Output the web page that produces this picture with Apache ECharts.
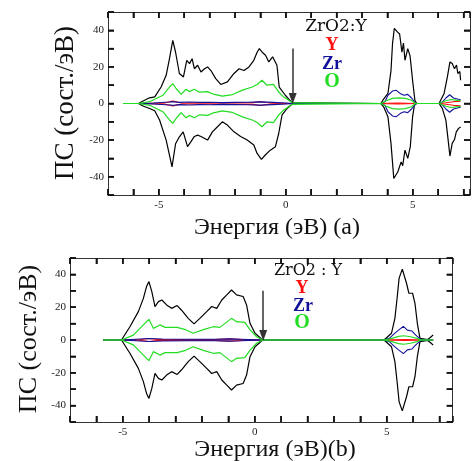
<!DOCTYPE html>
<html><head><meta charset="utf-8">
<script src="https://cdn.jsdelivr.net/npm/echarts@6/dist/echarts.min.js"></script>
<style>html,body{margin:0;padding:0;background:#fff}#c{width:473px;height:461px}</style>
</head><body><div id="c"></div>
<script>
// ---------- DATA (energy eV, DOS states/eV) ----------
// Panel (a)
const aTotUp = [[-6.4,0],[-5.8,0],[-5.6,1.5],[-5.36,3.1],[-5.16,3.6],[-4.91,9],[-4.71,15.4],[-4.58,24.5],[-4.45,34.5],[-4.34,28],[-4.19,16.4],[-4.03,14.5],[-3.9,23.6],[-3.79,21.8],[-3.69,24.5],[-3.6,19],[-3.47,20.9],[-3.34,17.2],[-3.2,19],[-3.08,20],[-2.95,18],[-2.76,13.6],[-2.56,10.4],[-2.3,11.8],[-2.04,16.4],[-1.84,19],[-1.65,18],[-1.45,20],[-1.26,23.6],[-1.13,28],[-1.04,30],[-0.93,28],[-0.8,26.4],[-0.67,22.7],[-0.52,25.5],[-0.35,20.9],[-0.26,9],[-0.02,4.5],[0.24,0.5],[0.27,0],[3.74,0],[3.82,1.8],[4.02,5.5],[4.14,18],[4.2,32.7],[4.27,41],[4.4,39],[4.48,38],[4.57,28],[4.63,33],[4.69,23.6],[4.8,30],[4.89,26],[4.99,12.7],[5.08,1.8],[5.15,0],[6.03,0],[6.23,5.5],[6.36,14.5],[6.46,22.7],[6.55,21.8],[6.64,19],[6.72,21],[6.77,16.4],[6.85,17.5],[6.88,12.7]];
const aTotDn = [[-6.4,0],[-5.8,0],[-5.6,-1.5],[-5.36,-2.7],[-5.16,-4],[-4.97,-9],[-4.71,-20],[-4.48,-34.6],[-4.34,-22],[-4.19,-18.2],[-4.04,-15.5],[-3.87,-23.6],[-3.74,-21],[-3.6,-18],[-3.47,-17.3],[-3.34,-18],[-3.08,-20],[-2.89,-15.5],[-2.69,-12.7],[-2.5,-10],[-2.3,-11.8],[-2.04,-15.5],[-1.78,-18],[-1.52,-20],[-1.26,-22.7],[-1.13,-27.3],[-0.96,-30.5],[-0.8,-28],[-0.61,-25.5],[-0.41,-23.6],[-0.28,-16.4],[-0.15,-6.4],[0.05,-2.7],[0.27,0],[3.74,0],[3.85,-1.8],[4.02,-7.3],[4.14,-21.8],[4.25,-41],[4.41,-37.3],[4.54,-31.9],[4.6,-34],[4.69,-25.5],[4.8,-30],[4.9,-23.6],[4.99,-7.3],[5.06,-1],[5.15,0],[6.03,0],[6.16,-2.7],[6.3,-9.1],[6.39,-20],[6.46,-28.7],[6.55,-21.8],[6.64,-19.7],[6.71,-15.5],[6.8,-13.6],[6.88,-12.8]];
const aYUp  = [[-6.4,0],[-5.8,0],[-4.8,0.3],[-4.45,1.3],[-4.1,0.3],[-3,0.3],[-1.3,0.5],[-1.0,1.1],[-0.6,0.3],[0.27,0],[3.74,0],[4.0,0.1],[4.4,0.2],[4.8,0.15],[5.1,0],[6.03,0],[6.3,0.4],[6.6,1.0],[6.88,1.3]];
const aZrUp = [[-6.4,0],[-5.8,0],[-5.2,0.3],[-4.6,0.8],[-4.4,1.0],[-4.2,0.6],[-3.8,0.8],[-3.4,0.6],[-3,0.7],[-2.5,0.5],[-2,0.6],[-1.5,0.7],[-1,0.9],[-0.5,0.6],[0,0.3],[0.27,0],[3.74,0],[3.9,1],[4.02,4.5],[4.2,6.8],[4.35,7.2],[4.5,5.5],[4.65,4.5],[4.8,5],[4.95,3],[5.12,0],[6.03,0],[6.18,1],[6.3,3],[6.45,4.8],[6.6,3],[6.75,2.5],[6.88,2]];
const aOUp  = [[-6.4,0],[-5.8,0],[-5.36,1],[-4.84,4.5],[-4.58,9],[-4.45,10.9],[-4.32,8.2],[-4.12,5],[-3.93,7.8],[-3.8,6.5],[-3.6,7.8],[-3.4,6.2],[-3.08,6.5],[-2.89,5.3],[-2.5,4],[-2.1,4.9],[-1.71,7.3],[-1.32,9],[-1.13,10.4],[-0.94,12.7],[-0.74,10],[-0.49,10.4],[-0.28,6.3],[-0.08,3.5],[0.24,0.5],[0.27,0],[3.74,0],[3.95,1.5],[4.2,2.8],[4.45,3.1],[4.7,2.8],[4.95,1.8],[5.1,0],[6.03,0],[6.3,1.5],[6.5,2.2],[6.7,1.8],[6.88,1.6]];
// Panel (b)
const bTotUp = [[-5.74,0],[-5.05,0],[-4.73,8.1],[-4.41,17.3],[-4.22,25.4],[-4.1,32.6],[-4.01,35.6],[-3.9,29.5],[-3.78,20.4],[-3.65,23.4],[-3.52,24.4],[-3.34,21.4],[-3.15,19.3],[-2.94,21],[-2.78,18.3],[-2.52,13.2],[-2.3,9.8],[-2.08,13.2],[-1.82,17.3],[-1.63,20.4],[-1.44,19.3],[-1.25,24.4],[-1.06,27.5],[-0.88,30.5],[-0.69,27.5],[-0.44,26.5],[-0.31,21.4],[-0.18,10.2],[0.01,4.1],[0.3,0],[4.9,0],[5.18,4.1],[5.31,13.2],[5.4,26.5],[5.47,37.7],[5.59,43.2],[5.66,43.2],[5.75,34.6],[5.84,28.5],[5.98,28.5],[6.07,22.4],[6.16,10.2],[6.26,1],[6.33,0],[6.55,0.3],[6.65,1.5],[6.76,3]];
const bYUp  = [[-5.74,0],[-5.05,0],[-4.3,0.3],[-4.0,0.9],[-3.7,0.3],[-1.5,0.3],[-0.9,0.7],[-0.5,0.3],[0.3,0],[4.9,0],[5.3,0.15],[5.7,0.2],[6.1,0.15],[6.3,0],[6.76,0]];
const bZrUp = [[-5.74,0],[-5.05,0],[-4.5,0.5],[-4,0.9],[-3.5,0.6],[-2.5,0.5],[-1.5,0.5],[-1,0.7],[-0.5,0.5],[0.3,0],[4.9,0],[5.1,1],[5.3,4],[5.45,6],[5.63,8.3],[5.78,6],[5.95,5.5],[6.1,3],[6.28,0.5],[6.35,0],[6.76,0]];
const bOUp  = [[-5.74,0],[-5.05,0],[-4.6,3],[-4.22,9.2],[-4.01,12.6],[-3.84,7.1],[-3.59,9.2],[-3.4,7.7],[-2.94,7.7],[-2.62,6.3],[-2.33,4.1],[-1.95,6.3],[-1.57,8.1],[-1.32,7.7],[-0.88,13.2],[-0.69,11.2],[-0.38,10.8],[-0.18,6.3],[0.07,2],[0.3,0],[4.9,0],[5.2,1],[5.45,2.2],[5.65,2.6],[5.9,2],[6.15,1],[6.3,0],[6.76,0]];
// Fermi-level arrows [energy, start DOS]
const arrowA = [0.27, 30];
const arrowB = [0.32, 30];
// ticks and tick labels
const xTicks = [-7,-6,-5,-4,-3,-2,-1,0,1,2,3,4,5,6,7];
const yTicks = [-50,-40,-30,-20,-10,0,10,20,30,40,50];
const xTickLabels = ['-5','0','5'];
const yTickLabels = ['40','20','0','-20','-40'];

// ---------- CHART ----------
const SERIF = '"Liberation Serif","DejaVu Serif",serif';
const neg = a => a.map(p => [p[0], -p[1]]);
const COLORS = {tot:'#000000', Y:'#ff1010', Zr:'#10109a', O:'#22dd22'};

function axes(g, xmin, xmax) {
  const common = () => ({gridIndex:g, type:'value',
    axisLine:{show:true, onZero:false, lineStyle:{color:'#333', width:1}},
    axisTick:{show:true, inside:true, length:6, lineStyle:{color:'#111', width:1.5}},
    splitLine:{show:false}});
  const xb = Object.assign(common(), {position:'bottom', min:xmin, max:xmax, interval:1,
    axisLabel:{show:true, margin:5, fontFamily:SERIF, fontSize:11, color:'#222',
      formatter: v => (xTickLabels.indexOf(String(v)) >= 0 ? String(v) : '')}});
  const xt = Object.assign(common(), {position:'top', min:xmin, max:xmax, interval:1, axisLabel:{show:false}});
  const yl = Object.assign(common(), {position:'left', min:-50, max:50, interval:10,
    axisLabel:{show:true, margin:4, fontFamily:SERIF, fontSize:11, color:'#222',
      formatter: v => (yTickLabels.indexOf(String(v)) >= 0 ? String(v) : '')}});
  const yr = Object.assign(common(), {position:'right', min:-50, max:50, interval:10, axisLabel:{show:false}});
  return {x:[xb, xt], y:[yl, yr]};
}

const A = axes(0, -7, 7.25);
const B = axes(1, -7, 7.5);

// inward tick marks on all four sides, placed through the axis scales
function tickSeries(axIdx) {
  const data = xTicks.map(v => [v, 0, 0]).concat(yTicks.map(v => [-7, v, 1]));
  return {type:'custom', xAxisIndex:axIdx, yAxisIndex:axIdx, data, silent:true, clip:false,
    encode:{x:0, y:1}, z:5,
    renderItem: (params, api) => {
      const cs = params.coordSys, L = 6;
      const st = {stroke:'#111', lineWidth:1.5};
      const p = api.coord([api.value(0), api.value(1)]);
      if (api.value(2) === 0) {
        const x = p[0];
        return {type:'group', children:[
          {type:'line', shape:{x1:x, y1:cs.y, x2:x, y2:cs.y + L}, style:st},
          {type:'line', shape:{x1:x, y1:cs.y + cs.height, x2:x, y2:cs.y + cs.height - L}, style:st}]};
      }
      const y = p[1];
      return {type:'group', children:[
        {type:'line', shape:{x1:cs.x, y1:y, x2:cs.x + L, y2:y}, style:st},
        {type:'line', shape:{x1:cs.x + cs.width, y1:y, x2:cs.x + cs.width - L, y2:y}, style:st}]};
    }};
}

function panelSeries(axIdx, tot, totDn, y, zr, o, arrow) {
  const mk = (data, color, w) => ({type:'line', xAxisIndex:axIdx, yAxisIndex:axIdx, data, symbol:'none',
    animation:false, lineStyle:{color, width:w}});
  const list = [
    mk(tot, COLORS.tot, 1.2), mk(totDn, COLORS.tot, 1.2),
    mk(y, COLORS.Y, 1.1), mk(neg(y), COLORS.Y, 1.1),
    mk(zr, COLORS.Zr, 1.1), mk(neg(zr), COLORS.Zr, 1.1),
    mk(o, COLORS.O, 1.2), mk(neg(o), COLORS.O, 1.2)
  ];
  list[0].markLine = {silent:true, animation:false, symbol:['none','triangle'], symbolSize:[8,11],
    label:{show:false}, lineStyle:{color:'#333', width:1.5, type:'solid'},
    itemStyle:{color:'#000'},
    data:[[{coord:[arrow[0], arrow[1]]},{coord:[arrow[0], 2.8]}]]};
  list.push(tickSeries(axIdx));
  return list;
}

const series = [].concat(
  panelSeries(0, aTotUp, aTotDn, aYUp, aZrUp, aOUp, arrowA),
  panelSeries(2, bTotUp, neg(bTotUp), bYUp, bZrUp, bOUp, arrowB)
);

const graphics = [
  {type:'text', rotation:Math.PI/2, x:66, y:103,
    style:{text:'ПС (сост./эВ)', fontFamily:SERIF, fontSize:27, fill:'#111', textAlign:'center', textVerticalAlign:'middle'}},
  {type:'text', x:277, y:228,
    style:{text:'Энергия (эВ) (a)', fontFamily:SERIF, fontSize:24, fill:'#111', textAlign:'center', textVerticalAlign:'middle'}},
  {type:'text', rotation:Math.PI/2, x:29, y:339,
    style:{text:'ПС (сост./эВ)', fontFamily:SERIF, fontSize:26, fill:'#111', textAlign:'center', textVerticalAlign:'middle'}},
  {type:'text', x:275, y:450,
    style:{text:'Энергия (эВ)(b)', fontFamily:SERIF, fontSize:24, fill:'#111', textAlign:'center', textVerticalAlign:'middle'}},
];
const LEGF = '"DejaVu Serif","Liberation Serif",serif';
const legA = [[336,27,'ZrO2:Y',17,'#111','normal',LEGF],[332,45,'Y',18,'#ff1010','bold',SERIF],[332,64,'Zr',18,'#10109a','bold',SERIF],[332,82,'O',20,'#22dd22','bold',SERIF]];
const legB = [[308,271,'ZrO2 : Y',16,'#111','normal',LEGF],[302,288,'Y',18,'#ff1010','bold',SERIF],[303,306,'Zr',18,'#10109a','bold',SERIF],[302,323,'O',20,'#22dd22','bold',SERIF]];
legA.concat(legB).forEach(l => graphics.push({type:'text', x:l[0], y:l[1],
  style:{text:l[2], fontFamily:l[6], fontSize:l[3], fill:l[4], fontWeight:l[5], textAlign:'center', textVerticalAlign:'middle'}}));

const chart = echarts.init(document.getElementById('c'));
chart.setOption({
  animation:false,
  backgroundColor:'#fff',
  grid:[{left:108, top:12, width:365, height:183},
        {left:70, top:258, width:382.7, height:164}],
  xAxis: A.x.concat(B.x),
  yAxis: A.y.concat(B.y),
  series: series,
  graphic: graphics
});
</script></body></html>
